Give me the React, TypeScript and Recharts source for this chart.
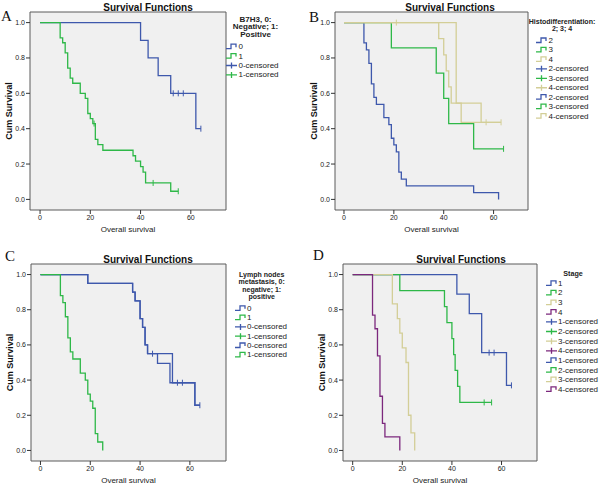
import { LineChart, Line, XAxis, YAxis, CartesianGrid, Legend } from "recharts";

type Step = [number, number]; // [time, survival from that time on]
type Pt = { t: number; s: number; c?: boolean };

const FONT = '"Liberation Sans", Arial, sans-serif';
const BLUE = "#3E58AC";
const GREEN = "#2EB848";
const BEIGE = "#D3CE97";
const PURPLE = "#7C287D";
const BG = "#F0F0F0";
const FRAME = "#5a5a5a";

const xTicks = [0, 20, 40, 60];
const yTicks = [0, 0.2, 0.4, 0.6, 0.8, 1.0];

// A - B7H3
const b7h3NegSteps: Step[] = [[0, 1], [40, 0.9], [43, 0.8], [47, 0.7], [52, 0.6], [62, 0.4]];
const b7h3NegCens = [53, 55, 57, 64];
const b7h3PosSteps: Step[] = [
  [0, 1], [8, 0.914], [9, 0.886], [10, 0.829], [11, 0.743], [12, 0.686], [13, 0.657],
  [16, 0.6], [18, 0.571], [19, 0.486], [20, 0.457], [21, 0.429], [22, 0.339], [23, 0.31],
  [25, 0.278], [37, 0.247], [38, 0.216], [40, 0.185], [41, 0.154], [42, 0.093], [52, 0.046],
];
const b7h3PosCens = [21.5, 45, 55];

// B - Histodifferentiation
const histo2Steps: Step[] = [
  [0, 1], [8, 0.885], [9, 0.846], [10, 0.769], [11, 0.654], [12, 0.577], [13, 0.538],
  [16, 0.462], [18, 0.423], [19, 0.346], [20, 0.308], [21, 0.269], [22, 0.154], [23, 0.115],
  [25, 0.077], [52, 0.038], [62, 0],
];
const histo3Steps: Step[] = [[0, 1], [19, 0.857], [37, 0.714], [40, 0.571], [42, 0.429], [52, 0.286]];
const histo3Cens = [64];
const histo4Steps: Step[] = [[0, 1], [38, 0.909], [40, 0.818], [41, 0.727], [42, 0.636], [43, 0.545], [47, 0.436]];
const histo4Cens = [21, 57, 63];
const histo4bSteps: Step[] = [[0, 1], [45, 0.545], [55, 0.436]];
const histo4bEnd = 63;

// C - Lymph nodes metastasis
const lnNegSteps: Step[] = [
  [0, 1], [19, 0.95], [37, 0.9], [38, 0.85], [40, 0.75], [41, 0.7], [42, 0.6], [43, 0.55],
  [53, 0.385], [62, 0.257],
];
const lnNegCens = [45, 55, 57, 64];
const lnNegBSteps: Step[] = [
  [0, 1], [19, 0.95], [37, 0.9], [38, 0.85], [40, 0.75], [41, 0.7], [42, 0.6], [43, 0.55],
  [47, 0.495], [52, 0.385], [62, 0.257],
];
const lnNegBEnd = 64;
const lnPosSteps: Step[] = [
  [0, 1], [8, 0.88], [9, 0.84], [10, 0.76], [11, 0.64], [12, 0.56], [13, 0.52], [16, 0.44],
  [18, 0.4], [19, 0.32], [20, 0.28], [21, 0.24], [22, 0.096], [23, 0.048], [25, 0],
];

// D - Stage
const stage1Steps: Step[] = [[0, 1], [42, 0.889], [47, 0.778], [52, 0.556], [62, 0.37]];
const stage1Cens = [55, 57, 64];
const stage2Steps: Step[] = [
  [0, 1], [19, 0.909], [37, 0.818], [38, 0.727], [40, 0.636], [40.7, 0.545], [41.3, 0.455],
  [42.3, 0.364], [43.2, 0.273],
];
const stage2Cens = [53, 56];
const stage3Steps: Step[] = [
  [0, 1], [16, 0.833], [18, 0.75], [19, 0.667], [20, 0.583], [21.5, 0.5], [22.5, 0.2],
  [23.5, 0.1], [25, 0],
];
const stage4Steps: Step[] = [[0, 1], [8, 0.769], [9, 0.692], [10, 0.538], [11, 0.308], [12, 0.154], [13, 0.077], [19, 0]];

// step function -> points, censored times flagged with c
function km(steps: Step[], cens: number[] = [], end?: number): Pt[] {
  const survAt = (t: number) => {
    let s = 1;
    for (const [tt, ss] of steps) if (tt <= t) s = ss;
    return s;
  };
  const pts: Pt[] = steps.map(([t, s]) => ({ t, s }));
  cens.forEach((t) => pts.push({ t, s: survAt(t), c: true }));
  if (end !== undefined) pts.push({ t: end, s: survAt(end) });
  return pts.sort((a, b) => a.t - b.t);
}

type Series = { id: string; color: string; data: Pt[] };
type Item = { kind: "step" | "cens"; color: string; label: string };

type PanelCfg = {
  left: number;
  top: number;
  height: number;
  // plot box edges, in panel pixels
  plot: { x0: number; x1: number; y0: number; y1: number };
  xDomain: [number, number];
  letter: string;
  letterX: number;
  letterY: number;
  titleX: number;
  titleY: number;
  series: Series[];
  legendTitle: string[];
  legendTitleX: number;
  legendTitleY: number;
  legendTitleGap: number;
  legendTitleSize: number;
  items: Item[];
  iconX: number;
  textX: number;
  itemY: number;
  itemGap: number;
};

const censorDot = (color: string) => (props: any) => {
  const { cx, cy, payload, index } = props;
  if (!payload || !payload.c) return <g key={`n${index}`} />;
  return (
    <path key={`c${index}`} d={`M${cx},${cy - 3}V${cy + 3}`} stroke={color} strokeWidth={1} fill="none" />
  );
};

const LegendBox = ({ cfg }: { cfg: PanelCfg }) => (
  <svg width={300} height={cfg.height} style={{ display: "block" }}>
    {cfg.legendTitle.map((line, i) => (
      <text
        key={line}
        x={cfg.legendTitleX}
        y={cfg.legendTitleY + i * cfg.legendTitleGap}
        textAnchor="middle"
        dominantBaseline="central"
        fontFamily={FONT}
        fontSize={cfg.legendTitleSize}
        fontWeight="bold"
        fill="#222"
      >
        {line}
      </text>
    ))}
    {cfg.items.map((it, i) => {
      const y = cfg.itemY + i * cfg.itemGap;
      const x = cfg.iconX;
      const d =
        it.kind === "step"
          ? `M${x},${y + 2}H${x + 5}V${y - 2.5}H${x + 10}V${y + 0.5}`
          : `M${x},${y}H${x + 11}M${x + 5.5},${y - 3}V${y + 3}`;
      return (
        <g key={i}>
          <path d={d} stroke={it.color} strokeWidth={1.3} fill="none" />
          <text x={cfg.textX} y={y} dominantBaseline="central" fontFamily={FONT} fontSize={8} fill="#222">
            {it.label}
          </text>
        </g>
      );
    })}
  </svg>
);

const Panel = ({ cfg }: { cfg: PanelCfg }) => {
  // axes take 1px each (a 0px axis is not drawn)
  const margin = {
    left: cfg.plot.x0 - 1,
    right: 300 - cfg.plot.x1 - 1,
    top: cfg.plot.y0 - 1,
    bottom: cfg.height - cfg.plot.y1 - 1,
  };
  return (
    <div style={{ position: "absolute", left: cfg.left, top: cfg.top, width: 300, height: cfg.height }}>
      <svg width={300} height={cfg.height} style={{ position: "absolute", left: 0, top: 0 }}>
        <text x={cfg.letterX} y={cfg.letterY} fontFamily='"Liberation Serif", "Times New Roman", serif' fontSize={15} fill="#111">
          {cfg.letter}
        </text>
        <text
          x={cfg.titleX}
          y={cfg.titleY}
          textAnchor="middle"
          dominantBaseline="central"
          fontFamily={FONT}
          fontSize={10}
          fontWeight="bold"
          fill="#111"
        >
          Survival Functions
        </text>
      </svg>
      <LineChart width={300} height={cfg.height} margin={margin}>
        <CartesianGrid fill={BG} horizontal={false} vertical={false} />
        <XAxis
          type="number"
          dataKey="t"
          domain={cfg.xDomain}
          ticks={xTicks}
          height={1}
          tickSize={4}
          tickMargin={1}
          axisLine={{ stroke: FRAME }}
          tickLine={{ stroke: "#333" }}
          tick={{ fontSize: 7, fill: "#222", fontFamily: FONT }}
          label={{ value: "Overall survival", position: "bottom", offset: 15, fontSize: 8, fill: "#222", fontFamily: FONT }}
        />
        <XAxis xAxisId="top" orientation="top" type="number" domain={cfg.xDomain} height={1} tick={false} tickLine={false} axisLine={{ stroke: FRAME }} />
        <YAxis
          type="number"
          domain={[-0.06, 1.06]}
          ticks={yTicks}
          width={1}
          tickSize={4}
          tickMargin={1}
          tickFormatter={(v: number) => v.toFixed(1)}
          axisLine={{ stroke: FRAME }}
          tickLine={{ stroke: "#333" }}
          tick={{ fontSize: 7, fill: "#222", fontFamily: FONT }}
          label={{
            value: "Cum Survival",
            angle: -90,
            position: "left",
            offset: 20,
            fontSize: 9,
            fontWeight: "bold",
            fill: "#111",
            fontFamily: FONT,
            style: { textAnchor: "middle" },
          }}
        />
        <YAxis yAxisId="right" orientation="right" width={1} tick={false} tickLine={false} axisLine={{ stroke: FRAME }} />
        {cfg.series.map((s) => (
          <Line
            key={s.id}
            data={s.data}
            dataKey="s"
            type="stepAfter"
            stroke={s.color}
            strokeWidth={1.3}
            dot={censorDot(s.color)}
            activeDot={false}
            isAnimationActive={false}
          />
        ))}
        <Legend
          layout="vertical"
          align="center"
          verticalAlign="middle"
          wrapperStyle={{ left: 0, top: 0, width: 300, height: cfg.height, pointerEvents: "none" }}
          content={() => <LegendBox cfg={cfg} />}
        />
      </LineChart>
    </div>
  );
};

const panelA: PanelCfg = {
  left: 0, top: 0, height: 242,
  plot: { x0: 30, x1: 226, y0: 12, y1: 210 },
  xDomain: [-4, 74],
  letter: "A", letterX: 1, letterY: 20.5,
  titleX: 148, titleY: 7,
  series: [
    { id: "neg", color: BLUE, data: km(b7h3NegSteps, b7h3NegCens) },
    { id: "pos", color: GREEN, data: km(b7h3PosSteps, b7h3PosCens) },
  ],
  legendTitle: ["B7H3, 0:", "Negative; 1:", "Positive"],
  legendTitleX: 255.5, legendTitleY: 19, legendTitleGap: 7.6, legendTitleSize: 8,
  items: [
    { kind: "step", color: BLUE, label: "0" },
    { kind: "step", color: GREEN, label: "1" },
    { kind: "cens", color: BLUE, label: "0-censored" },
    { kind: "cens", color: GREEN, label: "1-censored" },
  ],
  iconX: 226, textX: 238.5, itemY: 46.7, itemGap: 9.4,
};

const panelB: PanelCfg = {
  left: 300, top: 0, height: 242,
  plot: { x0: 35, x1: 228, y0: 12, y1: 210 },
  xDomain: [-3.6, 73.8],
  letter: "B", letterX: 9, letterY: 21.5,
  titleX: 150, titleY: 7,
  series: [
    { id: "h2", color: BLUE, data: km(histo2Steps) },
    { id: "h3", color: GREEN, data: km(histo3Steps, histo3Cens) },
    { id: "h4b", color: BEIGE, data: km(histo4bSteps, [], histo4bEnd) },
    { id: "h4", color: BEIGE, data: km(histo4Steps, histo4Cens) },
  ],
  legendTitle: ["Histodifferentiation:", "2; 3; 4"],
  legendTitleX: 262, legendTitleY: 21.5, legendTitleGap: 7, legendTitleSize: 7,
  items: [
    { kind: "step", color: BLUE, label: "2" },
    { kind: "step", color: GREEN, label: "3" },
    { kind: "step", color: BEIGE, label: "4" },
    { kind: "cens", color: BLUE, label: "2-censored" },
    { kind: "cens", color: GREEN, label: "3-censored" },
    { kind: "cens", color: BEIGE, label: "4-censored" },
    { kind: "step", color: BLUE, label: "2-censored" },
    { kind: "step", color: GREEN, label: "3-censored" },
    { kind: "step", color: BEIGE, label: "4-censored" },
  ],
  iconX: 236, textX: 248.5, itemY: 40.5, itemGap: 9.45,
};

const panelC: PanelCfg = {
  left: 0, top: 240, height: 245,
  plot: { x0: 31, x1: 226, y0: 24, y1: 221 },
  xDomain: [-3.8, 74.5],
  letter: "C", letterX: 5, letterY: 20.7,
  titleX: 148, titleY: 19,
  series: [
    { id: "n0b", color: BLUE, data: km(lnNegBSteps, [], lnNegBEnd) },
    { id: "n0", color: BLUE, data: km(lnNegSteps, lnNegCens) },
    { id: "n1", color: GREEN, data: km(lnPosSteps) },
  ],
  legendTitle: ["Lymph nodes", "metastasis, 0:", "negative; 1:", "positive"],
  legendTitleX: 261.7, legendTitleY: 34.5, legendTitleGap: 7.4, legendTitleSize: 7,
  items: [
    { kind: "step", color: BLUE, label: "0" },
    { kind: "step", color: GREEN, label: "1" },
    { kind: "cens", color: BLUE, label: "0-censored" },
    { kind: "cens", color: GREEN, label: "1-censored" },
    { kind: "step", color: BLUE, label: "0-censored" },
    { kind: "step", color: GREEN, label: "1-censored" },
  ],
  iconX: 235, textX: 247, itemY: 68.3, itemGap: 9.3,
};

const panelD: PanelCfg = {
  left: 300, top: 240, height: 245,
  plot: { x0: 43, x1: 237, y0: 24, y1: 221 },
  xDomain: [-3.9, 74.3],
  letter: "D", letterX: 13, letterY: 19.5,
  titleX: 161, titleY: 19,
  series: [
    { id: "s1", color: BLUE, data: km(stage1Steps, stage1Cens) },
    { id: "s2", color: GREEN, data: km(stage2Steps, stage2Cens) },
    { id: "s3", color: BEIGE, data: km(stage3Steps) },
    { id: "s4", color: PURPLE, data: km(stage4Steps) },
  ],
  legendTitle: ["Stage"],
  legendTitleX: 273, legendTitleY: 33.3, legendTitleGap: 7, legendTitleSize: 7.2,
  items: [
    { kind: "step", color: BLUE, label: "1" },
    { kind: "step", color: GREEN, label: "2" },
    { kind: "step", color: BEIGE, label: "3" },
    { kind: "step", color: PURPLE, label: "4" },
    { kind: "cens", color: BLUE, label: "1-censored" },
    { kind: "cens", color: GREEN, label: "2-censored" },
    { kind: "cens", color: BEIGE, label: "3-censored" },
    { kind: "cens", color: PURPLE, label: "4-censored" },
    { kind: "step", color: BLUE, label: "1-censored" },
    { kind: "step", color: GREEN, label: "2-censored" },
    { kind: "step", color: BEIGE, label: "3-censored" },
    { kind: "step", color: PURPLE, label: "4-censored" },
  ],
  iconX: 246, textX: 258, itemY: 43.3, itemGap: 9.64,
};

export default function App() {
  return (
    <div style={{ position: "absolute", left: 0, top: 0, width: 600, height: 485, background: "#fff", overflow: "hidden" }}>
      <Panel cfg={panelA} />
      <Panel cfg={panelB} />
      <Panel cfg={panelC} />
      <Panel cfg={panelD} />
    </div>
  );
}
